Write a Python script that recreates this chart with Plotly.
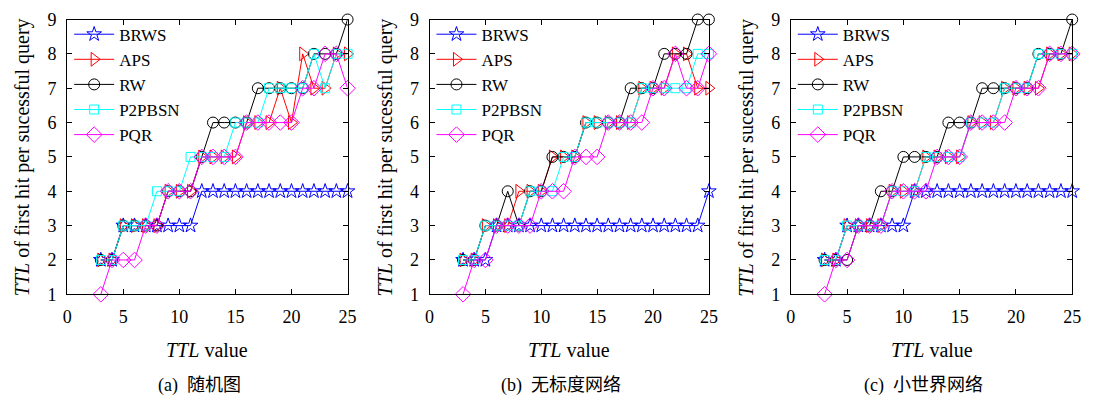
import plotly.graph_objects as go

# ---------------- data ----------------
ttl = list(range(3, 26))
x_ticks = [0, 5, 10, 15, 20, 25]
y_ticks = [1, 2, 3, 4, 5, 6, 7, 8, 9]

series_names = ["BRWS", "APS", "RW", "P2PBSN", "PQR"]

# (a) random graph
brws_a = [2, 2, 3, 3, 3, 3, 3, 3, 3, 4, 4, 4, 4, 4, 4, 4, 4, 4, 4, 4, 4, 4, 4]
aps_a = [2, 2, 3, 3, 3, 3, 4, 4, 4, 5, 5, 5, 5, 6, 6, 6, 7, 6, 8, 7, 7, 8, 8]
rw_a = [2, 2, 3, 3, 3, 3, 4, 4, 4, 5, 6, 6, 6, 6, 7, 7, 7, 7, 7, 8, 8, 8, 9]
p2p_a = [2, 2, 3, 3, 3, 4, 4, 4, 5, 5, 5, 5, 6, 6, 6, 7, 7, 7, 7, 8, 7, 8, 8]
pqr_a = [1, 2, 2, 2, 3, 3, 4, 4, 4, 5, 5, 5, 5, 6, 6, 6, 6, 6, 7, 7, 8, 8, 7]

# (b) scale-free network
brws_b = [2, 2, 2, 3, 3, 3, 3, 3, 3, 3, 3, 3, 3, 3, 3, 3, 3, 3, 3, 3, 3, 3, 4]
aps_b = [2, 2, 3, 3, 3, 4, 4, 4, 5, 5, 5, 6, 6, 6, 6, 6, 7, 7, 7, 8, 8, 7, 7]
rw_b = [2, 2, 3, 3, 4, 3, 4, 4, 5, 5, 5, 6, 6, 6, 6, 7, 7, 7, 8, 8, 8, 9, 9]
p2p_b = [2, 2, 3, 3, 3, 3, 4, 4, 4, 5, 5, 6, 6, 6, 6, 6, 7, 7, 7, 7, 7, 8, 8]
pqr_b = [1, 2, 2, 3, 3, 3, 3, 4, 4, 4, 5, 5, 5, 6, 6, 6, 6, 7, 7, 8, 7, 7, 8]

# (c) small-world network
brws_c = [2, 2, 3, 3, 3, 3, 3, 3, 4, 4, 4, 4, 4, 4, 4, 4, 4, 4, 4, 4, 4, 4, 4]
aps_c = [2, 2, 3, 3, 3, 3, 4, 4, 4, 5, 5, 5, 5, 6, 6, 6, 7, 7, 7, 7, 8, 8, 8]
rw_c = [2, 2, 2, 3, 3, 4, 4, 5, 5, 5, 5, 6, 6, 6, 7, 7, 7, 7, 7, 8, 8, 8, 9]
p2p_c = [2, 2, 3, 3, 3, 3, 4, 4, 4, 5, 5, 5, 5, 6, 6, 6, 7, 7, 7, 8, 8, 8, 8]
pqr_c = [1, 2, 2, 3, 3, 3, 4, 4, 4, 4, 5, 5, 5, 6, 6, 6, 6, 7, 7, 7, 8, 8, 8]

panel_data = [
    [brws_a, aps_a, rw_a, p2p_a, pqr_a],
    [brws_b, aps_b, rw_b, p2p_b, pqr_b],
    [brws_c, aps_c, rw_c, p2p_c, pqr_c],
]
captions = ["(a)  随机图", "(b)  无标度网络", "(c)  小世界网络"]
x_title = "<i>TTL</i> value"
y_title = "<i>TTL</i> of first hit per sucessful query"

# ---------------- styles ----------------
colors = ["#0000FF", "#FF0000", "#000000", "#00FFFF", "#FF00FF"]
symbols = ["star-open", "triangle-right-open", "circle-open", "square-open", "diamond-open"]
msizes = [11, 12, 11, 9, 12]

W, H = 1095, 407
SERIF = "Liberation Serif, Times New Roman, serif"
CAPTION_FONT = "Liberation Serif, Noto Sans CJK SC, serif"

# pixel geometry of the three plot areas
ax_left = [63, 430, 796]
ax_right = [347, 713, 1081]
ax_top, ax_bottom = 10, 299

fig = go.Figure()

for p in range(3):
    xa = "x" if p == 0 else f"x{p+1}"
    ya = "y" if p == 0 else f"y{p+1}"
    lg = "legend" if p == 0 else f"legend{p+1}"
    for s in range(5):
        fig.add_trace(go.Scatter(
            x=ttl, y=panel_data[p][s], name=series_names[s],
            mode="lines+markers", xaxis=xa, yaxis=ya, legend=lg,
            line=dict(color=colors[s], width=1),
            marker=dict(symbol=symbols[s], size=msizes[s], color=colors[s],
                        line=dict(color=colors[s], width=1)),
            cliponaxis=False,
        ))

layout = dict(
    width=W, height=H,
    margin=dict(l=0, r=0, t=0, b=0),
    paper_bgcolor="white", plot_bgcolor="white",
    font=dict(family=SERIF, size=18, color="black"),
    showlegend=True,
)

annotations = []
for p in range(3):
    suffix = "" if p == 0 else str(p + 1)
    xd = [ax_left[p] / W, ax_right[p] / W]
    yd = [(H - ax_bottom) / H, (H - ax_top) / H]
    common = dict(showline=True, linecolor="black", linewidth=1, mirror="ticks",
                  ticks="inside", ticklen=5, tickcolor="black", tickwidth=1,
                  showgrid=False, zeroline=False, ticklabelstandoff=6,
                  tickfont=dict(family=SERIF, size=18, color="black"))
    layout["xaxis" + suffix] = dict(domain=xd, range=[0, 25], tickvals=x_ticks,
                                    anchor="y" + suffix, **common)
    layout["yaxis" + suffix] = dict(domain=yd, range=[1, 9], tickvals=y_ticks,
                                    anchor="x" + suffix, **common)
    layout["legend" + suffix] = dict(
        x=(ax_left[p] + 2) / W, y=(H - ax_top + 3) / H, xanchor="left", yanchor="top",
        bgcolor="rgba(0,0,0,0)", borderwidth=0,
        font=dict(family=SERIF, size=17, color="black"),
        itemwidth=40, tracegroupgap=0,
    )
    cx = (ax_left[p] + ax_right[p]) / 2
    annotations.append(dict(text=x_title, x=cx / W, y=(H - 358) / H, xref="paper", yref="paper",
                            showarrow=False, xanchor="center", yanchor="middle",
                            font=dict(family=SERIF, size=20, color="black")))
    annotations.append(dict(text=y_title, x=(ax_left[p] - 45) / W, y=(H - 155) / H,
                            xref="paper", yref="paper", textangle=-90,
                            showarrow=False, xanchor="center", yanchor="middle",
                            font=dict(family=SERIF, size=20, color="black")))
    annotations.append(dict(text=captions[p], x=(cx - 8) / W, y=(H - 395) / H,
                            xref="paper", yref="paper",
                            showarrow=False, xanchor="center", yanchor="middle",
                            font=dict(family=CAPTION_FONT, size=18, color="black")))

layout["annotations"] = annotations
fig.update_layout(**layout)

fig.write_html("out.html", config={"displayModeBar": False},
               post_script="document.body.style.margin='0';")
